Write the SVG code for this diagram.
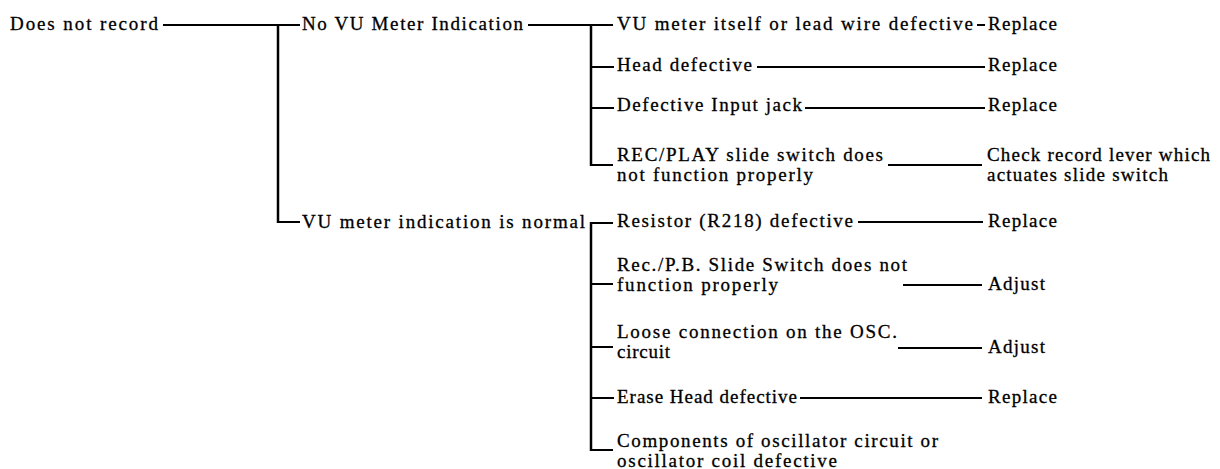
<svg xmlns="http://www.w3.org/2000/svg" width="1220" height="469" viewBox="0 0 1220 469">
<style>
text{font-family:"Liberation Serif","Times New Roman",serif;font-size:19px;fill:#000;stroke:#000;stroke-width:0.3;}
.c line{stroke:#000;stroke-width:2;stroke-linecap:butt;fill:none;}
.c .b{stroke-width:2.5;}
</style>
<rect width="1220" height="469" fill="#fff"/>
<g class="c" id="connectors">
<line x1="163" y1="25" x2="300" y2="25"/>
<line class="b" x1="278" y1="24" x2="278" y2="223"/>
<line x1="277" y1="222" x2="300" y2="222"/>
<line x1="528" y1="25" x2="613" y2="25"/>
<line class="b" x1="591" y1="24" x2="591" y2="166"/>
<line x1="590" y1="67" x2="614" y2="67"/>
<line x1="590" y1="108" x2="614" y2="108"/>
<line x1="590" y1="165" x2="613" y2="165"/>
<line x1="977" y1="25" x2="985" y2="25"/>
<line x1="757" y1="67" x2="985" y2="67"/>
<line x1="805" y1="108" x2="985" y2="108"/>
<line x1="888" y1="165" x2="982" y2="165"/>
<line x1="590" y1="223" x2="613" y2="223"/>
<line class="b" x1="591" y1="222" x2="591" y2="451"/>
<line x1="590" y1="284" x2="613" y2="284"/>
<line x1="590" y1="347" x2="613" y2="347"/>
<line x1="590" y1="398" x2="614" y2="398"/>
<line x1="590" y1="450" x2="613" y2="450"/>
<line x1="858" y1="222" x2="983" y2="222"/>
<line x1="903" y1="285" x2="982" y2="285"/>
<line x1="898" y1="348" x2="982" y2="348"/>
<line x1="800" y1="398" x2="982" y2="398"/>
</g>
<g id="n-does-not-record"><text x="10" y="30" textLength="148" lengthAdjust="spacing">Does not record</text></g>
<g id="n-no-vu"><text x="302" y="30" textLength="221" lengthAdjust="spacing">No VU Meter Indication</text></g>
<g id="n-vu-normal"><text x="302" y="228" textLength="283" lengthAdjust="spacing">VU meter indication is normal</text></g>
<g id="n-vu-defective"><text x="617" y="30" textLength="356" lengthAdjust="spacing">VU meter itself or lead wire defective</text></g>
<g id="n-replace-1"><text x="988" y="30" textLength="69" lengthAdjust="spacing">Replace</text></g>
<g id="n-head"><text x="617" y="71" textLength="135" lengthAdjust="spacing">Head defective</text></g>
<g id="n-replace-2"><text x="988" y="71" textLength="69" lengthAdjust="spacing">Replace</text></g>
<g id="n-input-jack"><text x="617" y="111" textLength="185" lengthAdjust="spacing">Defective Input jack</text></g>
<g id="n-replace-3"><text x="988" y="111" textLength="69" lengthAdjust="spacing">Replace</text></g>
<g id="n-rec-play"><text x="617" y="161" textLength="266" lengthAdjust="spacing">REC/PLAY slide switch does</text><text x="617" y="181" textLength="196" lengthAdjust="spacing">not function properly</text></g>
<g id="n-check-lever"><text x="987" y="161" textLength="223" lengthAdjust="spacing">Check record lever which</text><text x="987" y="181" textLength="181" lengthAdjust="spacing">actuates slide switch</text></g>
<g id="n-resistor"><text x="617" y="227" textLength="236" lengthAdjust="spacing">Resistor (R218) defective</text></g>
<g id="n-replace-4"><text x="988" y="227" textLength="69" lengthAdjust="spacing">Replace</text></g>
<g id="n-recpb"><text x="617" y="271" textLength="290" lengthAdjust="spacing">Rec./P.B. Slide Switch does not</text><text x="617" y="291" textLength="161" lengthAdjust="spacing">function properly</text></g>
<g id="n-adjust-1"><text x="988" y="290" textLength="57" lengthAdjust="spacing">Adjust</text></g>
<g id="n-loose"><text x="617" y="338" textLength="280" lengthAdjust="spacing">Loose connection on the OSC.</text><text x="617" y="358" textLength="53" lengthAdjust="spacing">circuit</text></g>
<g id="n-adjust-2"><text x="988" y="353" textLength="57" lengthAdjust="spacing">Adjust</text></g>
<g id="n-erase"><text x="617" y="403" textLength="180" lengthAdjust="spacing">Erase Head defective</text></g>
<g id="n-replace-5"><text x="988" y="403" textLength="69" lengthAdjust="spacing">Replace</text></g>
<g id="n-osc"><text x="617" y="447" textLength="321" lengthAdjust="spacing">Components of oscillator circuit or</text><text x="617" y="467" textLength="220" lengthAdjust="spacing">oscillator coil defective</text></g>
</svg>
